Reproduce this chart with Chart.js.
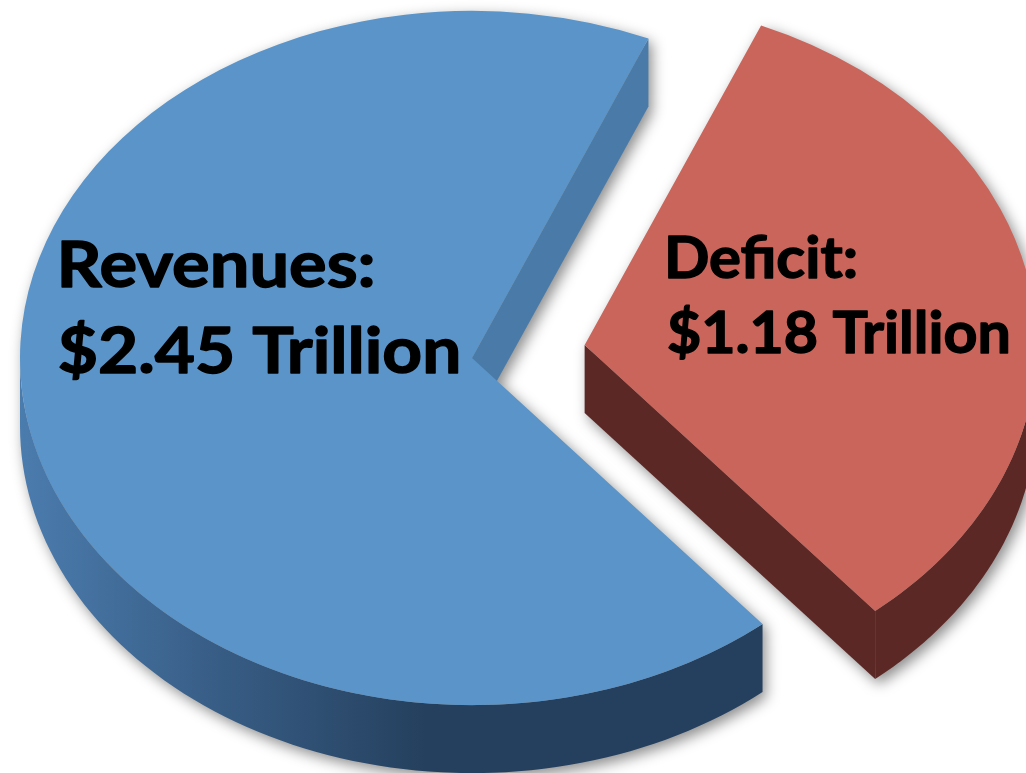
<!DOCTYPE html>
<html>
<head>
<meta charset="utf-8">
<title>Revenues and Deficit</title>
<script src="https://cdn.jsdelivr.net/npm/chart.js@4/dist/chart.umd.min.js"></script>
<style>
  html, body { margin: 0; padding: 0; background: #fff; }
  #chart { display: block; }
</style>
</head>
<body>
<canvas id="chart" width="1026" height="773"></canvas>
<script>
'use strict';
// データ (兆ドル)
const CATEGORIES = ['Revenues', 'Deficit'];
const VALUES = [2.45, 1.18];

// 色 : 上面 / 外周の側面 / 切り口
const TOP_COLORS = ['#5b94c8', '#c9655b'];
const WALL_COLORS = [['#4b7cae', '#375c84', '#25405e'], ['#5c2826', '#5c2826', '#5c2826']];
const CUT_COLORS = ['#4a7ba8', '#5c2826'];

// 見た目の調整
const TILT = 0.768;          // 楕円の縦横比
const DEPTH = 68;            // 厚み (px)
const EXPLODE = [0, 0.252];  // 切り出し量 (半径比)

// ラベルの位置とフォント (width はインクの幅)
const LABEL_STYLE = [
  { x: [62, 60], y: [287, 373], size: 64, width: [311, 398] },
  { x: [668, 668], y: [278, 353], size: 58, width: [187, 340] },
];

// 要素の形 (中心・半径・角度) を取り出す
function sliceGeom(el, i) {
  const r = el.outerRadius;
  const mid = (el.startAngle + el.endAngle) / 2;
  const d = EXPLODE[i] * r;
  return {
    x: el.x + Math.cos(mid) * d,
    y: el.y + Math.sin(mid) * d,
    r: r,
    s: el.startAngle,
    e: el.endAngle,
    pivot: el.y,
  };
}

// 上面の点を画面座標に
function rim(g, a, dz) {
  const y = g.y + g.r * Math.sin(a);
  return [g.x + g.r * Math.cos(a), g.pivot + (y - g.pivot) * TILT + dz];
}

function center(g, dz) {
  return [g.x, g.pivot + (g.y - g.pivot) * TILT + dz];
}

function sectorPath(ctx, g, dz) {
  const n = 90;
  ctx.beginPath();
  ctx.moveTo(...center(g, dz));
  for (let j = 0; j <= n; j++) {
    ctx.lineTo(...rim(g, g.s + (g.e - g.s) * j / n, dz));
  }
  ctx.closePath();
}

// 手前側 (0〜π) に入る外周の範囲
function frontRanges(g) {
  const ranges = [];
  for (let k = -1; k <= 1; k++) {
    const lo = Math.max(g.s, 2 * Math.PI * k);
    const hi = Math.min(g.e, 2 * Math.PI * k + Math.PI);
    if (hi > lo) ranges.push([lo, hi]);
  }
  return ranges;
}

function wallPath(ctx, g, lo, hi) {
  const n = 80;
  ctx.beginPath();
  for (let j = 0; j <= n; j++) {
    const p = rim(g, lo + (hi - lo) * j / n, 0);
    if (j === 0) ctx.moveTo(...p); else ctx.lineTo(...p);
  }
  for (let j = n; j >= 0; j--) {
    ctx.lineTo(...rim(g, lo + (hi - lo) * j / n, DEPTH));
  }
  ctx.closePath();
}

function cutPath(ctx, g, a) {
  const c = center(g, 0);
  const p = rim(g, a, 0);
  ctx.beginPath();
  ctx.moveTo(c[0], c[1]);
  ctx.lineTo(p[0], p[1]);
  ctx.lineTo(p[0], p[1] + DEPTH);
  ctx.lineTo(c[0], c[1] + DEPTH);
  ctx.closePath();
}

// 3D風の側面と影、上面の平たい変形
const pie3d = {
  id: 'pie3d',
  beforeDatasetsDraw(chart) {
    const ctx = chart.ctx;
    const arcs = chart.getDatasetMeta(0).data;
    const geoms = arcs.map(sliceGeom);

    // 影
    const off = document.createElement('canvas');
    off.width = chart.width;
    off.height = chart.height;
    const octx = off.getContext('2d');
    octx.fillStyle = '#000';
    geoms.forEach((g) => {
      for (let dz = 0; dz <= DEPTH; dz += 2) {
        sectorPath(octx, g, dz);
        octx.fill();
      }
    });
    ctx.save();
    ctx.filter = 'blur(7px)';
    ctx.globalAlpha = 0.45;
    ctx.drawImage(off, 4, 5);
    ctx.restore();

    // 側面
    geoms.forEach((g, i) => {
      frontRanges(g).forEach(([lo, hi]) => {
        const x0 = g.x - g.r;
        const grad = ctx.createLinearGradient(x0, 0, x0 + g.r * 0.9, 0);
        grad.addColorStop(0, WALL_COLORS[i][0]);
        grad.addColorStop(0.5, WALL_COLORS[i][1]);
        grad.addColorStop(1, WALL_COLORS[i][2]);
        wallPath(ctx, g, lo, hi);
        ctx.fillStyle = grad;
        ctx.fill();
      });
      ctx.fillStyle = CUT_COLORS[i];
      if (Math.cos(g.e) > 0) {
        cutPath(ctx, g, g.e);
        ctx.fill();
      }
      if (Math.cos(g.s) < 0) {
        cutPath(ctx, g, g.s);
        ctx.fill();
      }
    });

    // 上面 : 切り出し分ずらして縦につぶす
    arcs.forEach((el, i) => {
      const g = geoms[i];
      el.$shift = [g.x - el.x, g.y - el.y];
      el.x += el.$shift[0];
      el.y += el.$shift[1];
    });
    const pivot = geoms[0].pivot;
    ctx.save();
    ctx.translate(0, pivot);
    ctx.scale(1, TILT);
    ctx.translate(0, -pivot);
  },
  afterDatasetsDraw(chart) {
    chart.ctx.restore();
    chart.getDatasetMeta(0).data.forEach((el) => {
      if (el.$shift) {
        el.x -= el.$shift[0];
        el.y -= el.$shift[1];
        el.$shift = null;
      }
    });
  },
};

// ラベル (横幅に合わせて伸縮)
const sliceLabels = {
  id: 'sliceLabels',
  afterDraw(chart) {
    const ctx = chart.ctx;
    ctx.save();
    ctx.fillStyle = '#000';
    ctx.strokeStyle = '#000';
    ctx.lineWidth = 1.4;
    ctx.lineJoin = 'round';
    ctx.textBaseline = 'alphabetic';
    ctx.textAlign = 'left';
    LABEL_STYLE.forEach((st, i) => {
      ctx.font = `bold ${st.size}px Lato`;
      const lines = [`${CATEGORIES[i]}:`, `$${VALUES[i].toFixed(2)} Trillion`];
      lines.forEach((text, j) => {
        const m = ctx.measureText(text);
        const ink = m.actualBoundingBoxLeft + m.actualBoundingBoxRight;
        const sx = st.width[j] / ink;
        ctx.save();
        ctx.translate(st.x[j] + m.actualBoundingBoxLeft * sx, st.y[j]);
        ctx.scale(sx, 1);
        ctx.fillText(text, 0, 0);
        ctx.strokeText(text, 0, 0);
        ctx.restore();
      });
    });
    ctx.restore();
  },
};

const ctx = document.getElementById('chart');
new Chart(ctx, {
  type: 'pie',
  data: {
    labels: CATEGORIES,
    datasets: [
      {
        data: VALUES,
        backgroundColor: TOP_COLORS,
        borderWidth: 0,
        hoverOffset: 0,
        clip: false,
      },
    ],
  },
  options: {
    responsive: false,
    animation: false,
    devicePixelRatio: 1,
    events: [],
    rotation: 140,
    radius: 452,
    layout: { padding: { left: 0, top: 0, right: 82, bottom: 57 } },
    plugins: {
      legend: { display: false },
      tooltip: { enabled: false },
    },
  },
  plugins: [pie3d, sliceLabels],
});
</script>
</body>
</html>
